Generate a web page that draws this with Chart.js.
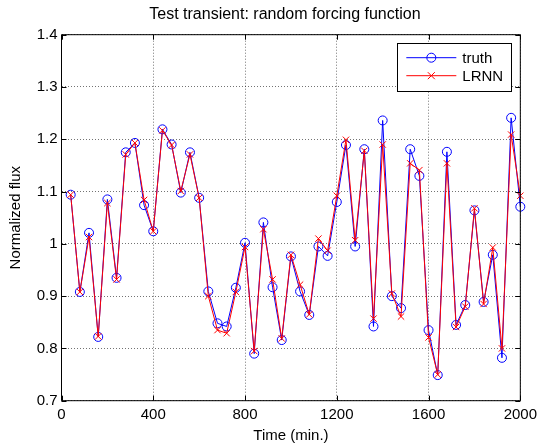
<!DOCTYPE html>
<html>
<head>
<meta charset="utf-8">
<script src="https://cdn.jsdelivr.net/npm/chart.js@4/dist/chart.umd.min.js"></script>
<style>
  html, body { margin: 0; padding: 0; background: #fff; }
  #c { display: block; }
</style>
</head>
<body>
<canvas id="c" width="542" height="446"></canvas>
<script>
// time samples (min.)
const times = [40, 80, 120, 160, 200, 240, 280, 320, 360, 400,
  440, 480, 520, 560, 600, 640, 680, 720, 760, 800,
  840, 880, 920, 960, 1000, 1040, 1080, 1120, 1160, 1200,
  1240, 1280, 1320, 1360, 1400, 1440, 1480, 1520, 1560, 1600,
  1640, 1680, 1720, 1760, 1800, 1840, 1880, 1920, 1960, 2000];

const truth = [1.094, 0.908, 1.021, 0.822, 1.085, 0.935, 1.175, 1.193, 1.074, 1.024,
  1.219, 1.190, 1.098, 1.175, 1.088, 0.909, 0.848, 0.842, 0.916, 1.002,
  0.790, 1.041, 0.917, 0.816, 0.976, 0.909, 0.864, 0.995, 0.977, 1.080,
  1.189, 0.995, 1.181, 0.842, 1.236, 0.900, 0.877, 1.181, 1.130, 0.835,
  0.749, 1.176, 0.845, 0.883, 1.064, 0.889, 0.979, 0.782, 1.241, 1.071];

const lrnn = [1.094, 0.908, 1.013, 0.823, 1.078, 0.932, 1.171, 1.193, 1.084, 1.024,
  1.217, 1.189, 1.101, 1.171, 1.088, 0.900, 0.835, 0.829, 0.908, 0.994,
  0.795, 1.028, 0.932, 0.819, 0.979, 0.922, 0.865, 1.010, 0.987, 1.092,
  1.199, 1.007, 1.178, 0.857, 1.190, 0.905, 0.861, 1.154, 1.141, 0.821,
  0.750, 1.154, 0.841, 0.880, 1.068, 0.885, 0.993, 0.800, 1.209, 1.092];

const xTicks = [0, 400, 800, 1200, 1600, 2000];
const yTicks = [0.7, 0.8, 0.9, 1.0, 1.1, 1.2, 1.3, 1.4];

const FONT = "'Liberation Sans', Arial, Helvetica, sans-serif";
const TITLE = 'Test transient: random forcing function';

// box around the axes with inward tick marks (matlab style), title, legend
const boxPlugin = {
  id: 'box',
  afterDatasetsDraw(chart) {
    const ctx = chart.ctx;
    const a = chart.chartArea;
    const xs = chart.scales.x, ys = chart.scales.y;
    ctx.save();
    ctx.strokeStyle = '#000';
    ctx.lineWidth = 1;
    ctx.beginPath();
    ctx.rect(a.left, a.top, a.right - a.left, a.bottom - a.top);
    ctx.stroke();
    const tl = 5;
    ctx.beginPath();
    xTicks.forEach(v => {
      const px = Math.round(xs.getPixelForValue(v)) + 0.5;
      ctx.moveTo(px, a.bottom); ctx.lineTo(px, a.bottom - tl);
      ctx.moveTo(px, a.top); ctx.lineTo(px, a.top + tl);
    });
    yTicks.forEach(v => {
      const py = Math.round(ys.getPixelForValue(v)) + 0.5;
      ctx.moveTo(a.left, py); ctx.lineTo(a.left + tl, py);
      ctx.moveTo(a.right, py); ctx.lineTo(a.right - tl, py);
    });
    ctx.stroke();
    ctx.restore();
  },
  afterDraw(chart) {
    const ctx = chart.ctx;
    const a = chart.chartArea;
    ctx.save();
    // title, centred over the axes
    ctx.fillStyle = '#000';
    ctx.font = '16px ' + FONT;
    ctx.textAlign = 'center';
    ctx.textBaseline = 'middle';
    ctx.fillText(TITLE, (a.left + a.right) / 2 - 6, 15);

    // legend box, upper right
    const bx = a.right - 123, by = a.top + 8, bw = 114, bh = 48;
    ctx.fillStyle = '#fff';
    ctx.fillRect(bx, by, bw, bh);
    ctx.strokeStyle = '#000';
    ctx.lineWidth = 1;
    ctx.strokeRect(Math.round(bx) + 0.5, Math.round(by) + 0.5, bw, bh);
    chart.data.datasets.forEach((ds, i) => {
      const y = by + 15 + i * 18;
      ctx.strokeStyle = ds.borderColor;
      ctx.lineWidth = 1;
      ctx.beginPath();
      ctx.moveTo(bx + 9, y); ctx.lineTo(bx + 59, y);
      ctx.stroke();
      const mx = bx + 34;
      ctx.beginPath();
      if (ds.pointStyle === 'circle') {
        ctx.arc(mx, y, 4.5, 0, Math.PI * 2);
      } else {
        ctx.moveTo(mx - 3.5, y - 3.5); ctx.lineTo(mx + 3.5, y + 3.5);
        ctx.moveTo(mx - 3.5, y + 3.5); ctx.lineTo(mx + 3.5, y - 3.5);
      }
      ctx.stroke();
      ctx.fillStyle = '#000';
      ctx.font = '15px ' + FONT;
      ctx.textBaseline = 'middle';
      ctx.textAlign = 'left';
      ctx.fillText(ds.label, bx + 65, y + 1);
    });
    ctx.restore();
  }
};

new Chart(document.getElementById('c'), {
  type: 'line',
  data: {
    datasets: [
      {
        label: 'truth',
        data: times.map((t, i) => ({ x: t, y: truth[i] })),
        borderColor: '#0000ff',
        backgroundColor: 'rgba(0,0,0,0)',
        borderWidth: 1,
        pointStyle: 'circle',
        pointRadius: 4.5,
        pointBorderWidth: 1,
        pointBorderColor: '#0000ff',
        pointBackgroundColor: 'rgba(0,0,0,0)',
        tension: 0,
        clip: false,
        order: 1
      },
      {
        label: 'LRNN',
        data: times.map((t, i) => ({ x: t, y: lrnn[i] })),
        borderColor: '#ff0000',
        backgroundColor: 'rgba(0,0,0,0)',
        borderWidth: 1,
        pointStyle: 'crossRot',
        pointRadius: 4.5,
        pointBorderWidth: 1,
        pointBorderColor: '#ff0000',
        tension: 0,
        clip: false,
        order: 0
      }
    ]
  },
  options: {
    responsive: false,
    animation: false,
    events: [],
    layout: { padding: { left: 0, right: 18, top: 34.7, bottom: 0 } },
    plugins: {
      legend: { display: false },
      tooltip: { enabled: false },
      title: { display: false }
    },
    scales: {
      x: {
        type: 'linear',
        min: 0,
        max: 2000,
        afterFit(scale) { scale.height = 45.3; },
        afterBuildTicks(scale) { scale.ticks = xTicks.map(v => ({ value: v })); },
        ticks: {
          color: '#000',
          padding: 5,
          maxRotation: 0,
          font: { family: FONT, size: 15 },
          callback: v => String(v)
        },
        grid: { color: 'rgba(0,0,0,0.55)', lineWidth: 1, drawTicks: false },
        border: { display: false, dash: [1, 2] },
        title: {
          display: true,
          text: 'Time (min.)',
          color: '#000',
          font: { family: FONT, size: 15, lineHeight: 1.2 },
          padding: { top: 0, bottom: 1 }
        }
      },
      y: {
        min: 0.7,
        max: 1.4,
        afterFit(scale) { scale.width = 61.5; },
        afterBuildTicks(scale) { scale.ticks = yTicks.map(v => ({ value: v })); },
        ticks: {
          color: '#000',
          padding: 4,
          font: { family: FONT, size: 15 },
          callback: v => String(parseFloat(v.toFixed(1)))
        },
        grid: { color: 'rgba(0,0,0,0.55)', lineWidth: 1, drawTicks: false },
        border: { display: false, dash: [1, 2] },
        title: {
          display: true,
          text: 'Normalized flux',
          color: '#000',
          font: { family: FONT, size: 15, lineHeight: 1.2 },
          padding: { top: 7, bottom: 0 }
        }
      }
    }
  },
  plugins: [boxPlugin]
});
</script>
</body>
</html>
